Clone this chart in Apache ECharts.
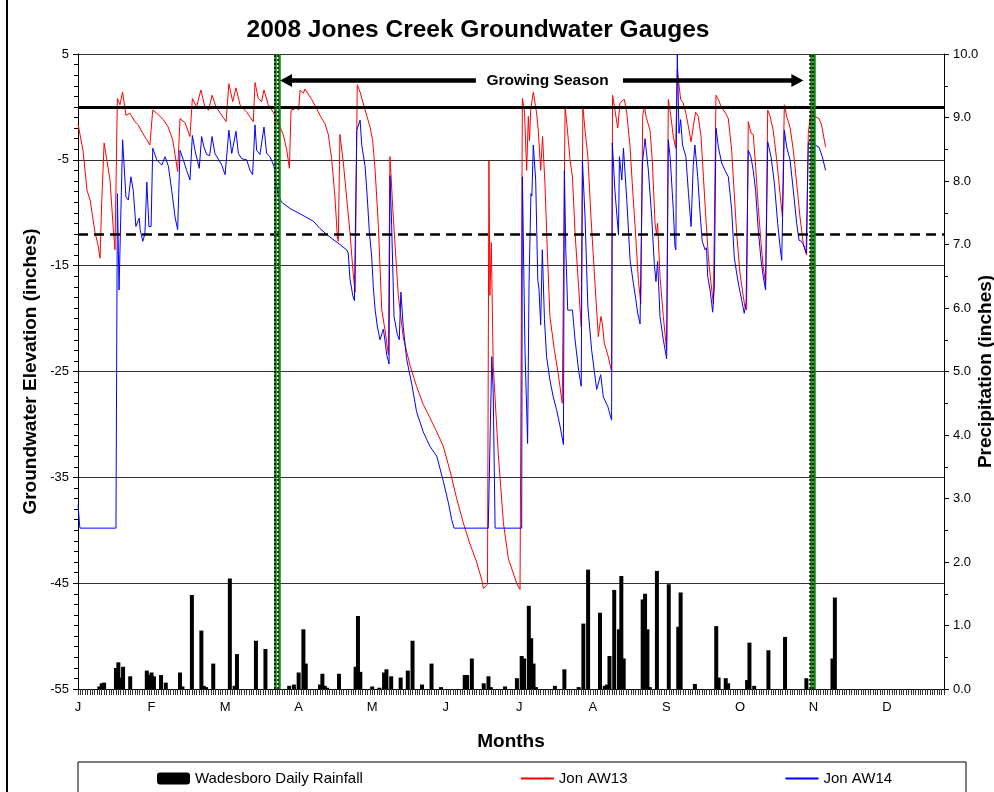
<!DOCTYPE html>
<html>
<head>
<meta charset="utf-8">
<script src="https://cdn.jsdelivr.net/npm/echarts@6/dist/echarts.min.js"></script>
<style>
html,body{margin:0;padding:0;background:#fff;}
#chart{width:994px;height:792px;}
</style>
</head>
<body>
<div id="chart"></div>
<script>
// Month tick labels (every 31 days from Jan 1)
var monthLabels = ['J','F','M','A','M','J','J','A','S','O','N','D'];

// Wadesboro daily rainfall: [day of year (0 = Jan 1), inches]
var rainfall = [[9,0.04],[10,0.09],[11,0.10],[16,0.33],[17,0.42],[18,0.18],[19,0.35],[22,0.20],[29,0.29],[30,0.22],[31,0.26],[32,0.20],[35,0.22],[37,0.10],[43,0.26],[44,0.04],[48,1.48],[52,0.92],[53,0.05],[54,0.03],[57,0.40],[64,1.74],[66,0.05],[67,0.55],[75,0.76],[79,0.63],[89,0.05],[91,0.07],[93,0.26],[95,0.94],[96,0.40],[102,0.07],[103,0.24],[104,0.05],[105,0.02],[110,0.24],[117,0.35],[118,1.15],[119,0.27],[124,0.04],[127,0.02],[129,0.26],[130,0.31],[132,0.20],[136,0.18],[139,0.29],[141,0.76],[145,0.07],[149,0.40],[153,0.03],[163,0.22],[164,0.22],[166,0.48],[171,0.09],[173,0.20],[174,0.03],[180,0.04],[185,0.17],[187,0.52],[188,0.48],[190,1.31],[191,0.80],[192,0.40],[193,0.03],[201,0.05],[205,0.31],[211,0.03],[213,1.03],[215,1.88],[220,1.20],[222,0.05],[223,0.07],[224,0.52],[226,1.56],[228,0.94],[229,1.78],[230,0.48],[238,1.41],[239,1.50],[240,0.94],[241,0.03],[244,1.86],[249,1.65],[253,0.98],[254,1.52],[260,0.08],[269,0.99],[270,0.18],[273,0.17],[274,0.09],[282,0.14],[283,0.73],[285,0.05],[291,0.61],[298,0.82],[307,0.17],[318,0.48],[319,1.44]];

// Jon AW13 groundwater elevation: [day of year, inches]
var aw13 = [[0,-1.6],[2.1,-4.1],[3.8,-7.9],[5.1,-8.8],[7.2,-11.9],[8.4,-13.0],[9.3,-14.3],[10,-9],[11,-3.4],[13.5,-6.9],[14.8,-11.3],[15.6,-13.5],[16.6,0.8],[17.7,0.2],[18.8,1.4],[20.2,-0.8],[21.9,-0.6],[24,-1.4],[25.4,-1.7],[27.3,-2.5],[29,-3.1],[30.3,-3.6],[31.5,-0.3],[33.2,-0.6],[36,-1.2],[38,-1.9],[39.9,-3.1],[42,-6.1],[43,-1.1],[45.1,-1.5],[47.2,-2.8],[48.2,0.8],[50,0],[51.8,1.6],[53.5,0],[55,-0.3],[56.5,1.1],[58.2,0],[60.6,-0.8],[62.4,-1.4],[63.6,2.2],[65.2,0.5],[66.6,1.8],[68.3,0.2],[71.1,-0.5],[73.9,-1.4],[74.6,2.3],[76,0.8],[77.4,0.5],[78.4,1.6],[80.2,0.2],[82.3,-0.5],[84.4,-1.5],[86.5,-2.6],[88,-4.1],[89.1,-5.8],[89.8,-0.3],[92.2,-0.1],[93,-0.3],[93.6,1.6],[95,1.3],[95.7,1.7],[98.5,0.7],[100,0.1],[102,-0.8],[104.1,-1.6],[105.5,-2.6],[106.9,-4.9],[108.3,-8.5],[109.3,-12.2],[109.7,-12.7],[110.4,-2.6],[111.8,-5.2],[113.2,-8.5],[114.6,-11.8],[116,-15.8],[116.8,-17.5],[117.7,2.1],[118.9,1.4],[121,-0.3],[123.1,-1.9],[124.2,-3.2],[125.2,-5.9],[126.6,-11.2],[128,-19.1],[129.4,-21.1],[130.8,-23.4],[131.5,-4.7],[132.9,-10.5],[135,-17.8],[137.1,-21.8],[139.9,-24.4],[142.7,-26.4],[145.5,-28.1],[148.4,-29.4],[151.2,-30.7],[154,-32.1],[156.8,-34.4],[159.6,-37],[162.4,-39.3],[165.2,-41.3],[168,-43],[170.2,-44.7],[170.9,-45.5],[172.6,-45.1],[173.2,-5.1],[173.6,-17.8],[174.2,-12.8],[175,-24.4],[177.1,-32.7],[179.3,-39.3],[181.4,-42.7],[184.9,-45],[186.3,-45.6],[187.3,0.8],[188.2,-0.5],[189.1,-6],[189.8,-0.9],[190.3,-3.2],[190.8,-0.3],[191.9,1.4],[193.3,-0.6],[194,-2.2],[195,-6],[195.8,-2.8],[196.8,-7.2],[197.8,-13.5],[198.9,-19.8],[200.8,-23],[202.4,-25.2],[204.1,-28],[204.8,-28.1],[205.3,0],[206,-1.5],[207.4,-5],[208.4,-6.6],[209.5,-11.9],[211,-17],[212.1,-20.8],[212.8,0],[213.7,-2.2],[214.9,-4.7],[216.2,-10.4],[217.9,-16.7],[219.3,-21.7],[220.4,-19.8],[221,-20.5],[221.8,-22.3],[223.5,-23.6],[224.9,-25],[225.3,1.1],[226.3,-0.3],[227.5,-2],[228.4,0.3],[229.4,0.6],[230.3,0.7],[231.3,-0.6],[232.7,-3.8],[233.6,-7.2],[234.8,-11.3],[236.2,-16.4],[237.2,-18.6],[238,-0.8],[238.8,0],[239.5,-1],[241.1,-2.2],[242.1,-5.3],[243.2,-11],[243.8,-12],[244.3,-11],[245.3,-16],[246.7,-19.8],[248.1,-23],[248.8,0.7],[249.9,-0.9],[250.9,-2.8],[251.9,-3.9],[252.6,3.5],[254,0.7],[255,0.4],[256.2,-0.6],[257.3,-1.9],[258.4,-3.3],[259.3,-1.9],[260.3,-0.5],[261.4,-0.9],[262.6,-2.8],[263.6,-6.6],[264.6,-10.4],[265.7,-14.2],[266.8,-16.7],[267.8,-18.6],[268.2,-18.7],[268.9,1.1],[269.9,0.7],[271.3,-0.1],[272.7,-0.5],[274.1,-1.1],[275.5,-4.1],[276.6,-8.2],[277.6,-11.9],[279,-15.7],[280.4,-17.9],[281.1,-18.9],[281.8,-19.2],[282.5,-1.4],[283.7,-2.5],[284.6,-2.6],[285.6,-5.6],[286.7,-9.4],[287.9,-12.9],[288.8,-15.1],[289.8,-16.7],[290.7,-0.3],[291.6,-0.8],[293,-2.2],[294.5,-5],[295.9,-8.2],[296.9,-10.4],[297.7,0.2],[298.7,-0.9],[300.1,-1.9],[301.5,-4.1],[302.9,-7.2],[304.3,-10.4],[305.7,-12.9],[307.1,-14],[307.8,-2.5],[309,-0.3],[310.6,-0.9],[312.3,-1.1],[313.4,-1.7],[315.1,-3.8]];

// Jon AW14 groundwater elevation: [day of year, inches]
var aw14 = [[0,-37.6],[0.8,-39.8],[16,-39.8],[16.6,-8.2],[17.3,-17.3],[18.8,-3.1],[19.8,-6.9],[20.2,-8.5],[21.2,-8.8],[22.3,-6.6],[23.3,-7.9],[24.4,-11.3],[25.8,-10.5],[26.2,-11.6],[27.3,-12.7],[28.2,-12],[29,-7.1],[29.9,-11.3],[30.8,-11.3],[31.5,-3.9],[33.2,-5],[35.3,-5.5],[36.7,-4.7],[38.1,-5.6],[39.5,-7.9],[40.9,-10.4],[42,-11.6],[43,-4.1],[44.4,-5],[45.8,-6],[47.2,-6.9],[48.2,-2.7],[49.3,-4.1],[51.1,-5.8],[52.1,-2.8],[53.1,-3.8],[54.2,-4.5],[55.5,-4.6],[56.5,-2.8],[57.7,-4.4],[59.1,-4.9],[60.6,-5.5],[62,-6.4],[63.6,-2.2],[64.8,-4.4],[66.6,-2.3],[67.6,-4.4],[69,-4.9],[71.1,-5],[72.5,-6],[73.6,-6.4],[74.6,-1.7],[75.3,-4.1],[76.7,-4.5],[78.4,-1.9],[79.5,-4.4],[80.9,-4.7],[82.6,-5.6],[84.2,-8.2],[85.8,-9],[89.4,-9.6],[93.6,-10.1],[99.2,-10.8],[102,-11.5],[106.2,-12.3],[110.4,-13],[113.2,-13.5],[113.9,-13.8],[114.6,-16.2],[115.8,-17.8],[116.5,-18.3],[117.5,-2.2],[118.3,-2.1],[118.9,-1.25],[119.6,-3.6],[121,-5.6],[121.9,-8.5],[122.8,-11.8],[123.3,-11.8],[123.8,-14.2],[124.5,-17.1],[125.2,-19.1],[126.2,-20.8],[127.3,-22],[128.7,-21],[129.4,-22.1],[130.1,-23.4],[131.1,-24.3],[131.5,-6.5],[132.2,-11.2],[133.2,-19.8],[134.6,-21.5],[135.4,-22],[136.1,-17.5],[137.1,-20.8],[138.5,-23.8],[140.6,-26.1],[142.7,-28.8],[145.5,-30.7],[148.4,-32.1],[151.2,-33],[154,-35.4],[156.1,-37.4],[157.5,-39],[158.5,-39.8],[172.9,-39.8],[174.4,-23.6],[175,-27],[175.8,-39.8],[187,-39.8],[187.3,-6.6],[188.4,-23],[189.5,-31.8],[190.1,-16.7],[190.9,-8.2],[191.3,-8.4],[191.9,-3.6],[192.9,-6.9],[193.8,-16.4],[194.3,-17.2],[195,-20.6],[195.7,-13.5],[196.6,-20.1],[197.5,-23.6],[198.9,-25.8],[200.3,-27.4],[201.7,-28.6],[203.2,-30.2],[204.6,-31.9],[205,-6],[205.6,-13.5],[206.4,-19.2],[208.4,-19.2],[209.5,-22],[211,-24.9],[212.1,-26.4],[212.6,-5],[213.7,-10.4],[214.9,-18.9],[216.5,-23],[218.6,-26.7],[220.3,-25.3],[221.4,-27.4],[223.3,-28.3],[224.9,-29.6],[225.2,-3.4],[226.3,-7.9],[227.8,-12.1],[228.2,-4.7],[229.2,-6.9],[229.9,-3.9],[231.3,-8.8],[232.7,-14.5],[234.1,-16.7],[235.1,-18.2],[235.9,-19.5],[236.9,-20.5],[237.9,-5.3],[239,-3],[240.4,-6],[241.8,-10.4],[242.9,-14.8],[243.6,-16.5],[244.3,-14.6],[245.3,-19.8],[246.7,-22],[248.1,-23.8],[248.8,-3.1],[249.6,-4.8],[250.9,-9.7],[251.6,-13.2],[252,-13.5],[252.2,-3.4],[252.6,5],[253.3,-2.5],[254,-1.2],[254.8,-3.6],[256.2,-4.7],[257.3,-8.2],[258.4,-11.3],[259.3,-5.6],[260,-3.6],[261.2,-6.6],[262.2,-10.1],[263.1,-12.7],[264.3,-13.5],[264.9,-13.3],[265.4,-16],[266.4,-17.3],[267.1,-18.6],[267.5,-19.4],[268.2,-17],[268.9,-2],[269.9,-3.8],[271.3,-5.3],[272.7,-6],[274.1,-6.6],[275.5,-9.7],[276.6,-14.2],[277.6,-15.7],[278.6,-17],[279.7,-18.2],[280.8,-19.5],[281.6,-18.5],[282.5,-4.1],[283.6,-4.7],[284.6,-6],[285.6,-7.9],[286.7,-11.6],[287.9,-14.5],[288.8,-16],[289.8,-17.3],[290.7,-3.3],[292.1,-4.7],[293.5,-7.2],[294.9,-11],[295.9,-13.2],[296.6,-14.5],[297.7,-2.2],[298.7,-3.8],[300.1,-5],[301.5,-7.9],[302.9,-11],[303.9,-12.6],[304.9,-12.7],[305.7,-13],[306.9,-13.8],[307.8,-3.4],[309.2,-3],[310.6,-3.6],[312.3,-3.8],[313.7,-4.7],[315.1,-6]];

// Reference levels and growing season markers (data units)
var surfaceLevel = 0;
var criterionLevel = -12;
var seasonBounds = [83.87, 309.6];   // growing season start / end (day)
var arrowLevel = 2.5;
var arrowSegments = [[87.7, 167.7], [229.7, 303.2]];
var seasonLabelDay = 197.9;

var FONT = '"Liberation Sans", Arial, sans-serif';

var chart = echarts.init(document.getElementById('chart'), null, {renderer: 'canvas'});

var markLineData = [
  {yAxis: surfaceLevel, lineStyle: {color: '#000', width: 3, type: 'solid'}},
  {yAxis: criterionLevel, lineStyle: {color: '#000', width: 2.5, type: [10, 6]}}
];
seasonBounds.forEach(function (d) {
  markLineData.push({xAxis: d - 0.55, lineStyle: {color: '#0a8a0a', width: 2.5, type: 'solid'}});
  markLineData.push({xAxis: d + 0.75, lineStyle: {color: '#0a8a0a', width: 2.5, type: 'solid'}});
  markLineData.push({xAxis: d - 1.1, lineStyle: {color: '#000', width: 1.5, type: [2, 2]}});
  markLineData.push({xAxis: d + 0.2, lineStyle: {color: '#000', width: 1.5, type: [2, 2]}});
});
markLineData.push([
  {coord: [arrowSegments[0][0], arrowLevel], symbol: 'triangle', symbolSize: [13, 12]},
  {coord: [arrowSegments[0][1], arrowLevel], symbol: 'none', lineStyle: {color: '#000', width: 4.5, type: 'solid'}}
]);
markLineData.push([
  {coord: [arrowSegments[1][0], arrowLevel], symbol: 'none'},
  {coord: [arrowSegments[1][1], arrowLevel], symbol: 'triangle', symbolSize: [13, 12], lineStyle: {color: '#000', width: 4.5, type: 'solid'}}
]);

var hiddenSymbol = {color: 'rgba(0,0,0,0)', borderColor: 'rgba(0,0,0,0)', borderWidth: 0, opacity: 0};

var option = {
  animation: false,
  textStyle: {fontFamily: FONT},
  title: {
    text: '2008 Jones Creek Groundwater Gauges',
    left: 473, top: 13, textAlign: 'center',
    textStyle: {fontFamily: FONT, fontSize: 24.5, fontWeight: 'bold', color: '#000'}
  },
  grid: {left: 78, right: 50, top: 54, bottom: 103, containLabel: false, outerBoundsMode: 'none'},
  legend: {
    left: 157, top: 771, padding: 0,
    itemWidth: 33, itemHeight: 12, itemGap: 157,
    textStyle: {fontFamily: FONT, fontSize: 15, color: '#000'},
    data: [
      {name: 'Wadesboro Daily Rainfall', icon: 'roundRect'},
      {name: 'Jon AW13', itemStyle: hiddenSymbol},
      {name: 'Jon AW14', itemStyle: hiddenSymbol}
    ]
  },
  graphic: [
    {type: 'rect', shape: {x: 7, y: -10, width: 1000, height: 820}, style: {fill: 'none', stroke: '#000', lineWidth: 2}, silent: true},
    {type: 'rect', shape: {x: 78, y: 762, width: 888, height: 40}, style: {fill: 'none', stroke: '#000', lineWidth: 1}, silent: true}
  ],
  xAxis: {
    type: 'value', min: 0, max: 365, interval: 31,
    name: 'Months', nameLocation: 'middle', nameGap: 43,
    nameTextStyle: {fontFamily: FONT, fontSize: 19, fontWeight: 'bold', color: '#000'},
    axisLine: {onZero: false, lineStyle: {color: '#000', width: 1}},
    axisTick: {length: 6, lineStyle: {color: '#333'}},
    minorTick: {show: true, splitNumber: 31, length: 6, lineStyle: {color: '#333'}},
    splitLine: {show: false},
    axisLabel: {
      margin: 12, fontSize: 13, color: '#000', fontFamily: FONT, showMaxLabel: false,
      formatter: function (v) { return (v % 31 === 0) ? (monthLabels[v / 31] || '') : ''; }
    }
  },
  yAxis: [
    {
      type: 'value', position: 'left', min: -55, max: 5, interval: 10,
      name: 'Groundwater Elevation (inches)', nameLocation: 'middle', nameGap: 38, nameRotate: 90,
      nameMoveOverlap: false,
      nameTextStyle: {fontFamily: FONT, fontSize: 19, fontWeight: 'bold', color: '#000'},
      axisLine: {show: true, lineStyle: {color: '#000', width: 1}},
      axisTick: {show: true, length: 5, lineStyle: {color: '#000'}},
      minorTick: {show: true, splitNumber: 10, length: 4, lineStyle: {color: '#000'}},
      splitLine: {show: true, lineStyle: {color: '#333', width: 1}},
      axisLabel: {margin: 9, fontSize: 13, color: '#000', fontFamily: FONT}
    },
    {
      type: 'value', position: 'right', min: 0, max: 10, interval: 1,
      name: 'Precipitation (inches)', nameLocation: 'middle', nameGap: 32, nameRotate: 90,
      nameMoveOverlap: false,
      nameTextStyle: {fontFamily: FONT, fontSize: 19, fontWeight: 'bold', color: '#000'},
      axisLine: {show: true, lineStyle: {color: '#000', width: 1}},
      axisTick: {show: true, length: 5, lineStyle: {color: '#000'}},
      minorTick: {show: true, splitNumber: 2, length: 4, lineStyle: {color: '#000'}},
      splitLine: {show: false},
      axisLabel: {margin: 9, fontSize: 13, color: '#000', fontFamily: FONT,
        formatter: function (v) { return v.toFixed(1); }}
    }
  ],
  series: [
    {
      name: 'Wadesboro Daily Rainfall', type: 'bar', yAxisIndex: 1,
      barWidth: 4, itemStyle: {color: '#000'},
      data: rainfall
    },
    {
      name: 'Jon AW13', type: 'line', yAxisIndex: 0,
      symbol: 'none', lineStyle: {color: '#ff0000', width: 1}, itemStyle: {color: '#ff0000'},
      data: aw13,
      markLine: {
        silent: true, symbol: 'none', label: {show: false},
        data: markLineData
      },
      markPoint: {
        silent: true,
        data: [{coord: [seasonLabelDay, arrowLevel], symbol: 'circle', symbolSize: 1,
          itemStyle: {color: 'rgba(0,0,0,0)'},
          label: {show: true, position: 'inside', formatter: 'Growing Season',
            fontFamily: FONT, fontSize: 15.5, fontWeight: 'bold', color: '#000'}}]
      }
    },
    {
      name: 'Jon AW14', type: 'line', yAxisIndex: 0,
      symbol: 'none', lineStyle: {color: '#0000ff', width: 1}, itemStyle: {color: '#0000ff'},
      data: aw14
    }
  ]
};
chart.setOption(option);
</script>
</body>
</html>
